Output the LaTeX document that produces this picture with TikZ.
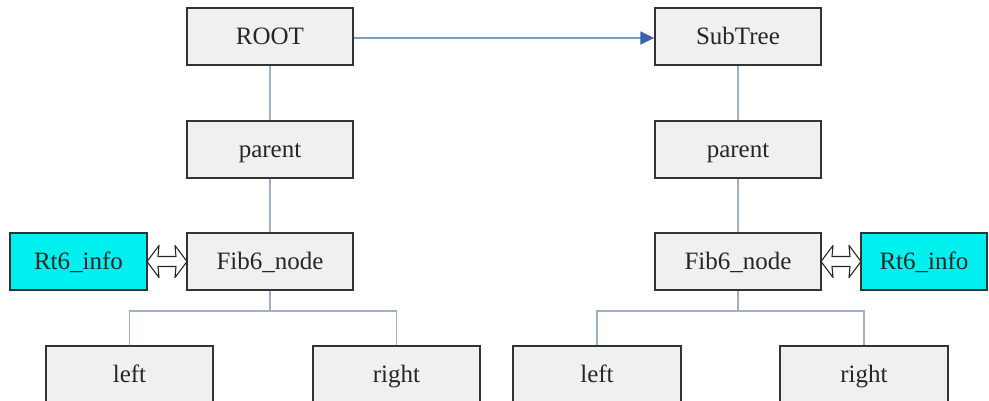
\documentclass[tikz,border=0pt]{standalone}
\usepackage{fontspec}
\setmainfont{Liberation Serif}
\usetikzlibrary{arrows.meta,calc}
\definecolor{boxfill}{HTML}{F0F0F0}
\definecolor{boxline}{HTML}{333333}
\definecolor{conn}{HTML}{9DB2C6}
\definecolor{arrline}{HTML}{7E9DC6}
\definecolor{arrhead}{HTML}{3A64B0}
\definecolor{rtcyan}{HTML}{00F0F0}
\tikzset{
  box/.style={draw=boxline, line width=1.4pt, fill=boxfill, minimum width=166pt, minimum height=57pt,
    inner sep=0pt, text height=17pt, text depth=1pt, text=black!85, font=\fontsize{25}{28}\selectfont},
  rtbox/.style={box, fill=rtcyan},
  conline/.style={draw=conn, line width=1.6pt},
  dblarrow/.style={draw=black!85, fill=white, line width=1.1pt, line join=round}
}
\newcommand{\dblarrowpath}[1]{%
  \draw[dblarrow, shift={(#1)}] (-20,0) -- (-8,-16) -- (-9,-5) -- (9,-5) -- (8,-16) -- (20,0)
    -- (8,16) -- (9,5) -- (-9,5) -- (-8,16) -- cycle;}
\begin{document}
\begin{tikzpicture}[x=1pt,y=-1pt]
\useasboundingbox (0,0) rectangle (989,400);
\clip (0,0) rectangle (989,400);
\node[box] (root) at (270,36.5) {ROOT};
\node[box] (sub) at (738,36.5) {SubTree};
\node[box] (parL) at (270,149.5) {parent};
\node[box] (parR) at (738,149.5) {parent};
\node[box] (fibL) at (270,261.5) {Fib6\_node};
\node[box] (fibR) at (738,261.5) {Fib6\_node};
\node[rtbox, minimum width=137pt] (rtL) at (78.5,261.5) {Rt6\_info};
\node[rtbox, minimum width=126pt] (rtR) at (924,261.5) {Rt6\_info};
\node[box, minimum width=167pt] (leftL) at (129.5,374.5) {left};
\node[box, minimum width=167pt] (rightL) at (396.5,374.5) {right};
\node[box, minimum width=168pt] (leftR) at (597,374.5) {left};
\node[box, minimum width=168pt] (rightR) at (864,374.5) {right};
\coordinate (brL) at (270,311);
\coordinate (brR) at (738,311);
\coordinate (daL) at ($(rtL.east)!0.5!(fibL.west)$);
\coordinate (daR) at ($(fibR.east)!0.5!(rtR.west)$);
% connectors
\draw[conline] (root.south) -- (parL.north);
\draw[conline] (parL.south) -- (fibL.north);
\draw[conline] (sub.south) -- (parR.north);
\draw[conline] (parR.south) -- (fibR.north);
\draw[conline] (fibL.south) -- (brL);
\draw[conline] (leftL.north) |- (brL) -| (rightL.north);
\draw[conline] (fibR.south) -- (brR);
\draw[conline] (leftR.north) |- (brR) -| (rightR.north);
% arrow root -> subtree
\draw[draw=arrline, line width=1.6pt, -{Triangle[length=14pt,width=13pt,color=arrhead]}] (root.east |- 0,38) -- (sub.west |- 0,38);
% double arrows
\dblarrowpath{daL}
\dblarrowpath{daR}
\end{tikzpicture}
\end{document}
